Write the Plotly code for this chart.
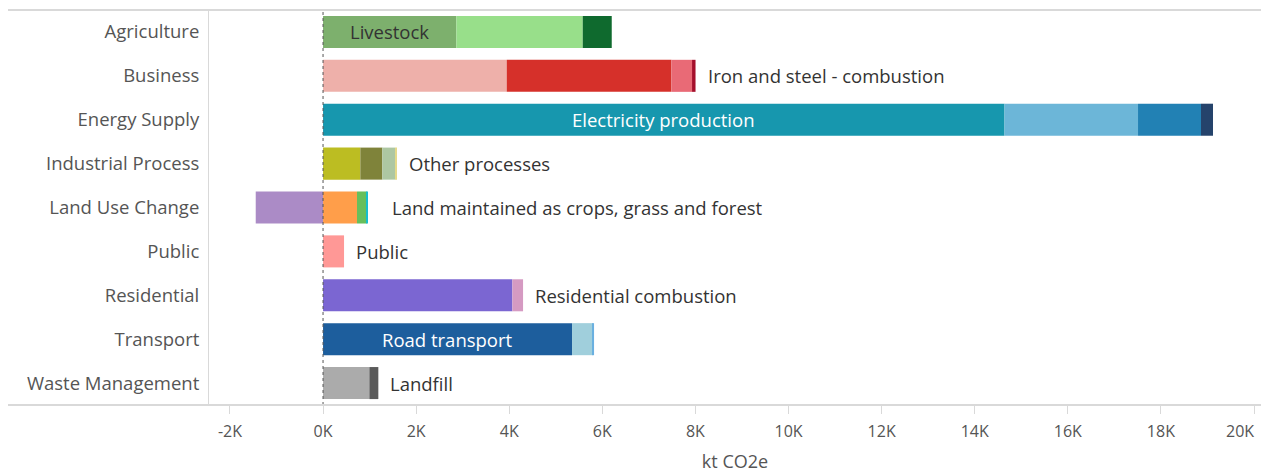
import plotly.graph_objects as go

categories = ["Agriculture", "Business", "Energy Supply", "Industrial Process",
              "Land Use Change", "Public", "Residential", "Transport", "Waste Management"]

# sub-sector segment values per category (kt CO2e), in stacking order
agriculture = [2864, 2715, 623]
business = [3946, 3538, 443, 75]
energy_supply = [14640, 2868, 1353, 258]
industrial_process = [801, 473, 273, 37]
land_use_change = [-1446, 730, 208, 21]
public = [451]
residential = [4067, 230]
transport = [5349, 445, 28]
waste_management = [995, 193]

agriculture_colors = ["#7db06d", "#98df8a", "#0f6a2e"]
business_colors = ["#eeb0aa", "#d6302a", "#e96a76", "#a50f2b"]
energy_supply_colors = ["#1797ae", "#6cb6d8", "#2281b4", "#25436b"]
industrial_process_colors = ["#bcbd22", "#7f833a", "#adc7a2", "#e4d98a"]
land_use_change_colors = ["#ab8bc6", "#ff9e4a", "#67bf5c", "#17becf"]
public_colors = ["#ff9896"]
residential_colors = ["#7b66d2", "#d59ac2"]
transport_colors = ["#1d5e9d", "#a0cfdc", "#6ab0e0"]
waste_management_colors = ["#ababab", "#5a5a5a"]

inside_labels = [("Agriculture", "Livestock", 0, "#333333"),
                 ("Energy Supply", "Electricity production", 0, "#ffffff"),
                 ("Transport", "Road transport", 0, "#ffffff")]
outside_labels = [("Business", "Iron and steel - combustion"),
                  ("Industrial Process", "Other processes"),
                  ("Land Use Change", "Land maintained as crops, grass and forest"),
                  ("Public", "Public"),
                  ("Residential", "Residential combustion"),
                  ("Waste Management", "Landfill")]

tick_values = [-2000, 0, 2000, 4000, 6000, 8000, 10000, 12000, 14000, 16000, 18000, 20000]
tick_labels = ["-2K", "0K", "2K", "4K", "6K", "8K", "10K", "12K", "14K", "16K", "18K", "20K"]
x_title = "kt CO2e"

series = [agriculture, business, energy_supply, industrial_process, land_use_change,
          public, residential, transport, waste_management]
colors = [agriculture_colors, business_colors, energy_supply_colors, industrial_process_colors,
          land_use_change_colors, public_colors, residential_colors, transport_colors,
          waste_management_colors]

FONT = "Open Sans"
LBL = 18.5
fig = go.Figure()
for cat, vals, cols in zip(categories, series, colors):
    for v, c in zip(vals, cols):
        fig.add_trace(go.Bar(y=[cat], x=[v], orientation="h", marker=dict(color=c, line=dict(width=0)),
                             showlegend=False, hoverinfo="x+y"))

annotations = []
seg_map = dict(zip(categories, series))
for cat, text, idx, col in inside_labels:
    vals = seg_map[cat]
    start = sum(v for v in vals[:idx] if v > 0)
    mid = start + vals[idx] / 2
    annotations.append(dict(x=mid, y=cat, text=text, showarrow=False, xanchor="center",
                            font=dict(family=FONT, size=LBL, color=col)))
for cat, text in outside_labels:
    end = sum(v for v in seg_map[cat] if v > 0)
    shift = 22 if cat == "Land Use Change" else 10
    annotations.append(dict(x=end, y=cat, text=text, showarrow=False, xanchor="left", xshift=shift,
                            font=dict(family=FONT, size=LBL, color="#333333")))

# last tick label kept inside the frame (right-aligned on its tick)
shown_ticktext = tick_labels[:-1] + [""]
annotations.append(dict(x=tick_values[-1], y=0, xref="x", yref="paper", yanchor="top", yshift=-13,
                        xanchor="right", xshift=2, text=tick_labels[-1], showarrow=False,
                        font=dict(family=FONT, size=16, color="#555555")))

L, R, T, B = 201, 8, 2, 68
W, H = 1261, 465
plot_w = W - L - R

line_col = "#d9d9d9"
shapes = [
    dict(type="line", xref="x", yref="paper", x0=0, x1=0, y0=0, y1=1,
         line=dict(color="#555555", width=1, dash="dot")),
    dict(type="line", xref="paper", yref="paper", x0=-L / plot_w, x1=1, y0=1, y1=1,
         line=dict(color=line_col, width=2)),
    dict(type="line", xref="paper", yref="paper", x0=-L / plot_w, x1=1, y0=0, y1=0,
         line=dict(color=line_col, width=2)),
]

fig.update_layout(
    width=W, height=H,
    margin=dict(l=L, r=R, t=T, b=B),
    barmode="relative", bargap=0.27,
    plot_bgcolor="white", paper_bgcolor="white",
    font=dict(family=FONT, color="#555555"),
    annotations=annotations, shapes=shapes,
    xaxis=dict(range=[-2450, 20150], tickvals=tick_values, ticktext=shown_ticktext,
               automargin=False,
               showgrid=False, zeroline=False, showline=True, mirror=True, linecolor=line_col,
               linewidth=1, ticks="outside", ticklen=8, tickcolor=line_col, ticklabelstandoff=4,
               tickfont=dict(family=FONT, size=16, color="#555555"),
               title=dict(text=x_title, font=dict(family=FONT, size=18, color="#555555"), standoff=14)),
    yaxis=dict(categoryorder="array", categoryarray=categories, autorange="reversed",
               automargin=False,
               showgrid=False, zeroline=False, showline=True, mirror=True, linecolor=line_col,
               linewidth=1, ticks="", ticklabelstandoff=5,
               tickfont=dict(family=FONT, size=LBL, color="#555555")),
)

fig.write_html("out.html")
